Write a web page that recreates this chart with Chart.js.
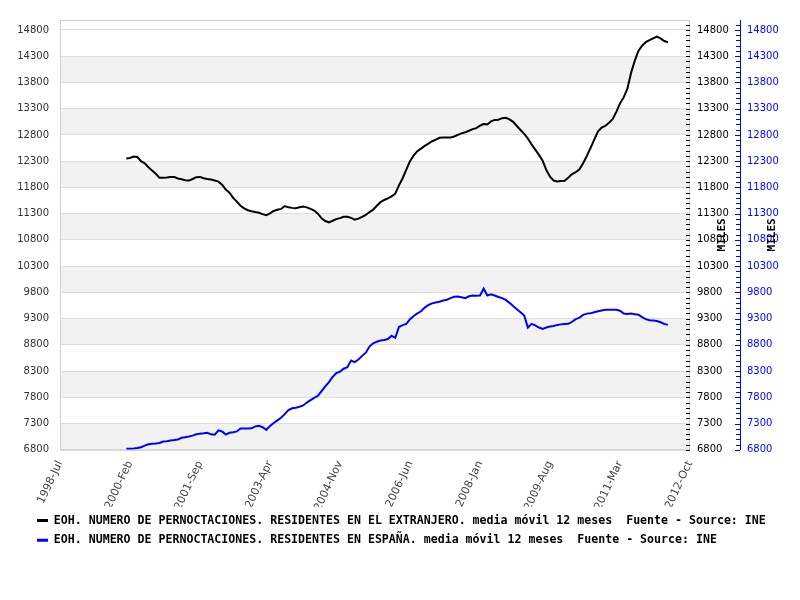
<!DOCTYPE html>
<html>
<head>
<meta charset="utf-8">
<script src="https://cdn.jsdelivr.net/npm/chart.js@4/dist/chart.umd.min.js"></script>
<style>
  body { margin: 0; background: #fff; }
  #wrap { width: 800px; height: 600px; }
</style>
</head>
<body>
<div id="wrap"><canvas id="myChart" width="800" height="600"></canvas></div>
<script>
// months on the x axis, 1998-Jul .. 2012-Oct
const firstYear = 1998, firstMonth = 6, monthCount = 172;
const monthNames = ['Jan', 'Feb', 'Mar', 'Apr', 'May', 'Jun', 'Jul', 'Aug', 'Sep', 'Oct', 'Nov', 'Dec'];
const xTickLabels = ['1998-Jul', '2000-Feb', '2001-Sep', '2003-Apr', '2004-Nov', '2006-Jun', '2008-Jan', '2009-Aug', '2011-Mar', '2012-Oct'];
const yTickLabels = [6800, 7300, 7800, 8300, 8800, 9300, 9800, 10300, 10800, 11300, 11800, 12300, 12800, 13300, 13800, 14300, 14800];
const dataStart = '2000-Jan';

// monthly values, 2000-Jan .. 2012-Apr (miles)
const extranjero = [
  12350, 12360, 12387, 12380, 12300, 12260, 12185, 12120, 12060, 11985,
  11985, 11990, 12000, 12000, 11970, 11955, 11935, 11930, 11960, 11995,
  12000, 11975, 11960, 11950, 11930, 11910, 11850, 11760, 11700, 11600,
  11530, 11450, 11400, 11365, 11345, 11330, 11318, 11290, 11270, 11305,
  11350, 11375, 11390, 11445, 11420, 11410, 11405, 11420, 11435, 11420,
  11390, 11360, 11300, 11210, 11160, 11135, 11165, 11195, 11215, 11240,
  11240, 11220, 11185, 11205, 11240, 11275, 11330, 11375, 11450, 11520,
  11560, 11590, 11630, 11680, 11840, 11975, 12140, 12300, 12410, 12490,
  12540, 12590, 12635, 12680, 12710, 12745, 12750, 12750, 12750, 12770,
  12800, 12830, 12850, 12880, 12910, 12930, 12975, 13010, 13000, 13060,
  13086, 13090, 13120, 13125, 13095, 13050, 12970, 12895, 12820, 12730,
  12620, 12520, 12420, 12310, 12130, 12005, 11930, 11911, 11920, 11928,
  11990, 12055, 12090, 12145, 12260, 12400, 12550, 12710, 12865, 12940,
  12972, 13030, 13100, 13240, 13400, 13515, 13680, 13980, 14210, 14400,
  14500, 14570, 14605, 14640, 14672, 14640, 14590, 14565
];
const espana = [
  6820, 6822, 6825, 6835, 6850, 6880, 6905, 6915, 6918, 6930,
  6958, 6965, 6978, 6985, 6995, 7029, 7040, 7052, 7070, 7095,
  7108, 7115, 7125, 7095, 7088, 7170, 7150, 7090, 7125, 7135,
  7150, 7206, 7206, 7206, 7210, 7245, 7257, 7230, 7180, 7255,
  7310, 7360, 7410, 7480, 7555, 7590, 7600, 7620, 7645, 7700,
  7745, 7790, 7830, 7920, 8010, 8090, 8190, 8260, 8290, 8345,
  8375, 8500, 8470, 8520, 8590, 8650, 8768, 8830, 8860, 8885,
  8893, 8910, 8975, 8935, 9140, 9175, 9200, 9290, 9350, 9400,
  9440, 9510, 9560, 9590, 9605, 9620, 9645, 9660, 9690, 9715,
  9720, 9705, 9690, 9725, 9740, 9735, 9740, 9870, 9740, 9765,
  9740, 9712, 9690, 9655, 9600, 9540, 9480, 9422, 9360, 9130,
  9200, 9170, 9130, 9105, 9130, 9150, 9160, 9180, 9190, 9195,
  9200, 9240, 9290, 9320, 9370, 9395, 9400, 9420, 9440, 9455,
  9467, 9467, 9467, 9467, 9450, 9395, 9390, 9396, 9385, 9375,
  9330, 9290, 9270, 9265, 9255, 9230, 9200, 9180
];

const serieNames = [
  'EOH. NUMERO DE PERNOCTACIONES. RESIDENTES EN EL EXTRANJERO. media móvil 12 meses  Fuente - Source: INE',
  'EOH. NUMERO DE PERNOCTACIONES. RESIDENTES EN ESPAÑA. media móvil 12 meses  Fuente - Source: INE'
];

let months = [];
for (let i = 0; i < monthCount; i++) {
  let m = firstMonth + i;
  months.push((firstYear + Math.floor(m / 12)) + '-' + monthNames[m % 12]);
}

function pad(values) {
  let start = months.indexOf(dataStart);
  let out = new Array(start).fill(null).concat(values);
  while (out.length < months.length) out.push(null);
  return out;
}

const yMin = 6800, yMax = 14990;

function fixedTicks(scale) {
  scale.ticks = yTickLabels.map(v => ({value: v}));
}
function plainLabel(value) {
  return String(value);
}

const decor = {
  id: 'decor',
  afterLayout(chart) {
    // legend sits indented like the original
    if (chart.legend) chart.legend.left = 29;
  },
  beforeDraw(chart) {
    const ctx = chart.ctx, a = chart.chartArea, y = chart.scales.y;
    ctx.save();
    ctx.fillStyle = '#f2f2f2';
    for (let i = 1; i < yTickLabels.length; i += 2) {
      let top = y.getPixelForValue(yTickLabels[i]);
      let bot = y.getPixelForValue(yTickLabels[i - 1]);
      ctx.fillRect(a.left, top, a.right - a.left, bot - top);
    }
    ctx.restore();
  },
  afterDraw(chart) {
    const ctx = chart.ctx, a = chart.chartArea;
    const y2 = chart.scales.y2, y3 = chart.scales.y3;
    ctx.save();
    ctx.strokeStyle = '#d0d0d0';
    ctx.lineWidth = 1;
    ctx.strokeRect(a.left + 0.5, a.top + 0.5, a.right - a.left - 1, a.bottom - a.top);

    // minor ticks every 100
    for (let v = yMin; v <= yMax; v += 100) {
      let py = Math.round(y2.getPixelForValue(v)) + 0.5;
      let major = (v - yMin) % 500 === 0;
      ctx.strokeStyle = '#000';
      ctx.beginPath();
      ctx.moveTo(a.right - 4, py);
      ctx.lineTo(a.right, py);
      ctx.stroke();
      ctx.strokeStyle = '#0000ff';
      ctx.beginPath();
      ctx.moveTo(y3.left - (major ? 5 : 4), py);
      ctx.lineTo(y3.left, py);
      ctx.stroke();
    }

    ctx.fillStyle = '#000';
    ctx.font = 'bold 11px "DejaVu Sans Mono"';
    ctx.textAlign = 'center';
    ctx.textBaseline = 'middle';
    let cy = (a.top + a.bottom) / 2;
    [y2.left + 32, y3.left + 32].forEach(function (cx) {
      ctx.save();
      ctx.translate(cx, cy);
      ctx.rotate(-Math.PI / 2);
      ctx.fillText('MILES', 0, 0);
      ctx.restore();
    });
    ctx.restore();
  }
};

const labelFont = {family: 'DejaVu Sans', size: 10};

let ctx = document.getElementById('myChart').getContext('2d');
let myChart = new Chart(ctx, {
  type: 'line',
  data: {
    labels: months,
    datasets: [{
      label: serieNames[0],
      data: pad(extranjero),
      borderColor: '#000000',
      backgroundColor: '#000000',
      borderWidth: 2,
      pointRadius: 0,
      yAxisID: 'y'
    }, {
      label: serieNames[1],
      data: pad(espana),
      borderColor: '#0000ff',
      backgroundColor: '#0000ff',
      borderWidth: 2,
      pointRadius: 0,
      yAxisID: 'y'
    }]
  },
  options: {
    responsive: false,
    animation: false,
    layout: {padding: {left: 0, top: 20, right: 0, bottom: 44}},
    scales: {
      x: {
        offset: false,
        grid: {display: false, drawTicks: false},
        border: {display: false},
        afterBuildTicks: function (scale) {
          scale.ticks = scale.ticks.filter(t => xTickLabels.includes(months[t.value]));
        },
        afterFit: function (scale) { scale.height = 57; },
        ticks: {
          autoSkip: false,
          minRotation: 65,
          maxRotation: 65,
          padding: 9,
          color: '#444',
          font: {family: 'DejaVu Sans', size: 11}
        }
      },
      y: {
        position: 'left',
        min: yMin,
        max: yMax,
        afterBuildTicks: fixedTicks,
        afterFit: function (scale) { scale.width = 60; },
        grid: {color: '#dddddd', drawTicks: false},
        border: {display: false},
        ticks: {padding: 11, color: '#333', font: labelFont, callback: plainLabel}
      },
      y2: {
        position: 'right',
        min: yMin,
        max: yMax,
        afterBuildTicks: fixedTicks,
        afterFit: function (scale) { scale.width = 50; },
        grid: {display: false, drawTicks: false},
        border: {display: false},
        ticks: {padding: 7, color: '#000', font: labelFont, callback: plainLabel}
      },
      y3: {
        position: 'right',
        min: yMin,
        max: yMax,
        afterBuildTicks: fixedTicks,
        afterFit: function (scale) { scale.width = 60; },
        grid: {display: false, drawTicks: false},
        border: {display: true, color: '#0000ff', width: 1},
        ticks: {padding: 7, color: '#0000ff', font: labelFont, callback: plainLabel}
      }
    },
    plugins: {
      tooltip: {enabled: false},
      legend: {
        position: 'bottom',
        align: 'start',
        labels: {
          boxWidth: 11,
          boxHeight: 3,
          padding: 8,
          color: '#000',
          font: {family: 'DejaVu Sans Mono', size: 11.6, weight: 'bold'},
          generateLabels: function (chart) {
            return chart.data.datasets.map((ds, i) => ({
              text: ds.label,
              fillStyle: ds.borderColor,
              strokeStyle: ds.borderColor,
              lineWidth: 0,
              fontColor: '#000',
              datasetIndex: i
            }));
          }
        }
      }
    }
  },
  plugins: [decor]
});
</script>
</body>
</html>
